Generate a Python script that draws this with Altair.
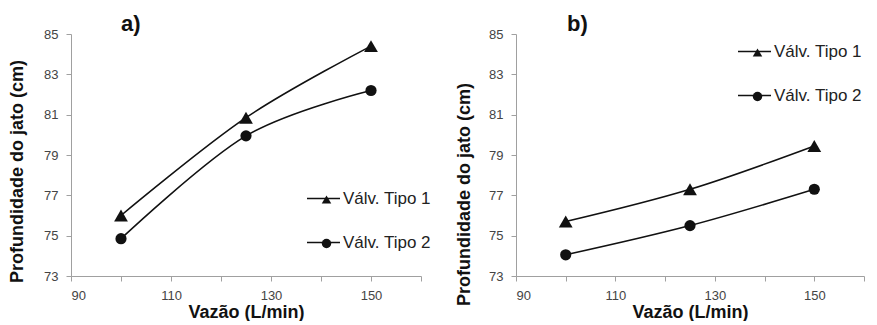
import altair as alt
import pandas as pd

# ---- data ----
vazao = [100, 125, 150]
series = ["Válv. Tipo 1", "Válv. Tipo 2"]
a_tipo1 = [76.0, 80.85, 84.4]
a_tipo2 = [74.85, 79.95, 82.2]
b_tipo1 = [75.7, 77.3, 79.45]
b_tipo2 = [74.05, 75.5, 77.3]
x_ticks = [90, 100, 110, 120, 130, 140, 150, 160]
y_ticks = [73, 75, 77, 79, 81, 83, 85]
panel_titles = ["a)", "b)"]
x_title = "Vazão (L/min)"
y_title = "Profundidade do jato (cm)"

FONT = "Liberation Sans"
INK = "#111111"


def panel(t1, t2, title, leg_x, leg_y, y_title_y, title_x, y_title_pad, w):
    df = pd.DataFrame({
        "Vazão": vazao + vazao,
        "Prof": t1 + t2,
        "Série": [series[0]] * len(vazao) + [series[1]] * len(vazao),
    })
    df["Marcador"] = df["Série"]

    x = alt.X(
        "Vazão:Q",
        scale=alt.Scale(domain=[90, 160], nice=False, zero=False),
        axis=alt.Axis(values=x_ticks, title=x_title, grid=False,
                      labelExpr="datum.value % 20 == 10 ? datum.label : ''",
                      tickSize=5, labelPadding=8, titlePadding=1),
    )
    y = alt.Y(
        "Prof:Q",
        scale=alt.Scale(domain=[73, 85], nice=False, zero=False),
        axis=alt.Axis(values=y_ticks, title=y_title, grid=False,
                      tickSize=5, labelPadding=8, titlePadding=y_title_pad,
                      titleY=y_title_y),
    )
    base = alt.Chart(df)
    lines = base.mark_line(interpolate="cardinal", strokeWidth=1.6).encode(
        x=x, y=y,
        stroke=alt.Stroke(
            "Série:N",
            scale=alt.Scale(domain=series, range=[INK, INK]),
            legend=alt.Legend(
                orient="none", legendX=leg_x, legendY=leg_y, title=None,
                symbolType="stroke", symbolSize=1089, symbolStrokeWidth=1.5,
                symbolStrokeColor=INK, labelFont=FONT, labelFontSize=17,
                labelColor="#222222", labelOffset=2, rowPadding=18, padding=0,
            ),
        ),
    )
    points = base.mark_point(filled=True, opacity=1, color=INK).encode(
        x=x, y=y,
        size=alt.Size("Marcador:N", scale=alt.Scale(domain=series, range=[190, 125]),
                      legend=None),
        shape=alt.Shape(
            "Marcador:N",
            scale=alt.Scale(domain=series, range=["triangle-up", "circle"]),
            legend=alt.Legend(
                orient="none", legendX=leg_x + 12, legendY=leg_y + 10, title=None,
                symbolSize=90, symbolFillColor=INK, symbolStrokeColor=INK,
                symbolStrokeWidth=0, labelOpacity=0, labelFontSize=17,
                labelExpr="''", rowPadding=26, padding=0,
            ),
        ),
    )
    label = alt.Chart(pd.DataFrame({"rotulo": [title]})).mark_text(
        align="left", baseline="middle", font=FONT, fontSize=22,
        fontWeight="bold", color=INK,
    ).encode(x=alt.value(title_x), y=alt.value(-10), text="rotulo:N")
    return alt.layer(lines, points, label).properties(
        width=w, height=242,
    ).resolve_legend(stroke="independent", shape="independent")


left = panel(a_tipo1, a_tipo2, panel_titles[0], 235, 147, 137, 50, 17, 350)
right = panel(b_tipo1, b_tipo2, panel_titles[1], 221, 0, 160, 51, 15, 348)

chart = alt.hconcat(left, right, spacing=24).properties(
    padding={"left": 0, "top": 5, "right": 0, "bottom": 0}
).configure_view(stroke=None).configure_axis(
    domainColor="#a0a0a0", tickColor="#a0a0a0",
    labelFont=FONT, labelFontSize=13, labelColor="#444444",
    titleFont=FONT, titleFontSize=18, titleFontWeight="bold", titleColor=INK,
)

chart.save("out.html", embed_options={"renderer": "svg", "actions": False})
